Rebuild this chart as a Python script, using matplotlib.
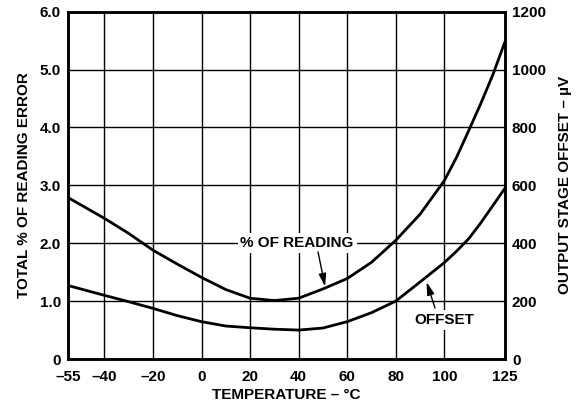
import matplotlib as mpl
mpl.use('agg')
import matplotlib.pyplot as plt

mpl.rcParams['font.family'] = ['Liberation Sans', 'DejaVu Sans']
mpl.rcParams['font.weight'] = 'bold'
mpl.rcParams['axes.labelweight'] = 'bold'
mpl.rcParams['font.size'] = 11

# temperature in deg C
temps = [-55, -40, -30, -20, -10, 0, 10, 20, 30, 40, 50, 60, 70, 80, 90, 100, 105, 110, 115, 120, 125]
# total % of reading error (left axis)
pct_reading = [2.79, 2.43, 2.17, 1.88, 1.64, 1.41, 1.20, 1.05, 1.01, 1.05, 1.21, 1.39,
               1.67, 2.05, 2.50, 3.08, 3.48, 3.94, 4.41, 4.91, 5.48]
# output stage offset in uV (right axis)
offset_uv = [254, 220, 198, 175, 150, 129, 114, 108, 103, 100, 107, 129,
             160, 200, 266, 333, 372, 415, 470, 530, 590]

xticks = [-55, -40, -20, 0, 20, 40, 60, 80, 100, 125]
xtick_labels = ['–55', '–40', '–20', '0', '20', '40', '60', '80', '100', '125']
yticks_left = [0, 1, 2, 3, 4, 5, 6]
ytick_labels_left = ['0', '1.0', '2.0', '3.0', '4.0', '5.0', '6.0']
yticks_right = [0, 200, 400, 600, 800, 1000, 1200]

fig = plt.figure(figsize=(5.84, 4.07), dpi=100)
ax = fig.add_axes([0.1164, 0.1179, 0.7483, 0.8534])
ax2 = ax.twinx()

ax.set_xlim(-55, 125)
ax.set_ylim(0, 6)
ax2.set_ylim(0, 1200)

ax.set_xticks(xticks)
ax.set_xticklabels(xtick_labels)
ax.set_yticks(yticks_left)
ax.set_yticklabels(ytick_labels_left)
ax2.set_yticks(yticks_right)

ax.grid(True, color='black', linewidth=1.0)
ax.set_axisbelow(True)
for a in (ax, ax2):
    a.tick_params(length=0, pad=5, labelsize=11)
    for s in a.spines.values():
        s.set_linewidth(1.8)
ax.tick_params(axis='x', pad=8)

ax.plot(temps, pct_reading, color='black', linewidth=2.0, zorder=3)
ax2.plot(temps, offset_uv, color='black', linewidth=2.0, zorder=3)

ax.set_xlabel('TEMPERATURE – °C', fontsize=11, labelpad=3)
ax.set_ylabel('TOTAL % OF READING ERROR', fontsize=11, labelpad=6)
ax2.set_ylabel('OUTPUT STAGE OFFSET – µV', fontsize=11, labelpad=9)

box = dict(facecolor='white', edgecolor='none', pad=2)
ax.text(39.4, 2.0, '% OF READING', ha='center', va='center', fontsize=11, bbox=box, zorder=4)
ax.annotate('', xy=(50.9, 1.25), xytext=(48.0, 1.85),
            arrowprops=dict(arrowstyle='-|>,head_length=0.7,head_width=0.2',
                            color='black', lw=1.0, shrinkA=0, shrinkB=0), zorder=4)
ax.text(100.2, 0.67, 'OFFSET', ha='center', va='center', fontsize=11, bbox=box, zorder=4)
ax.annotate('', xy=(92.7, 1.33), xytext=(96.2, 0.88),
            arrowprops=dict(arrowstyle='-|>,head_length=0.7,head_width=0.2',
                            color='black', lw=1.0, shrinkA=0, shrinkB=0), zorder=4)

plt.savefig('out.png', dpi=100)
